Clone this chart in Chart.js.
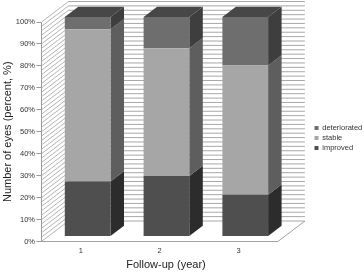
<!DOCTYPE html>
<html><head><meta charset="utf-8">
<script src="https://cdn.jsdelivr.net/npm/chart.js@4.4.0/dist/chart.umd.min.js"></script>
<style>html,body{margin:0;padding:0;background:#fff;}</style>
</head><body>
<canvas id="c" width="364" height="272"></canvas>
<script>
// ---- data ----
const categories = ['1', '2', '3'];
const seriesNames = ['improved', 'stable', 'deteriorated'];
const improved = [25.0, 27.5, 19.0];
const stable = [69.4, 58.2, 58.8];
const deteriorated = [5.6, 14.3, 22.2];
const yTickStep = 10;

// ---- styles / layout ----
const frontColors = ['#4f4f4f', '#a6a6a6', '#6e6e6e'];
const sideColors = ['#2c2c2c', '#5e5e5e', '#3e3e3e'];
const topColor = '#474747';
const X_RIGHT = 290.5;          // right end of x scale (for centring title)
const WALL = {dx: 27, dy: -20.5};
const BAR_FRONT = 0.25, BAR_BACK = 0.75;
const MINOR_STEP = 2;
const LEGEND_X = 314.5, LEGEND_Y = 124.3;

Chart.defaults.font.family = "'Liberation Sans', Arial, sans-serif";

const depth3d = {
  id: 'depth3d',
  afterLayout(chart) {
    const x = chart.scales.x;
    x.right = X_RIGHT; x.width = x.right - x.left; x.configure();
    const lg = chart.legend;
    if (lg) {
      const p = lg.options.labels.padding;
      lg.left = LEGEND_X - p; lg.right = chart.width; lg.width = lg.right - lg.left;
      lg.top = LEGEND_Y - p; lg.bottom = lg.top + 200; lg.height = 200;
    }
  },
  beforeDraw(chart) {
    const ctx = chart.ctx;
    ctx.save(); ctx.fillStyle = '#fff'; ctx.fillRect(0, 0, chart.width, chart.height); ctx.restore();
  },
  beforeDatasetsDraw(chart) {
    const ctx = chart.ctx, x = chart.scales.x, y = chart.scales.y;
    const L = x.getPixelForValue(x.min);
    const R = x.getPixelForValue(categories.length + 0.5);
    const B = y.getPixelForValue(0);
    ctx.save();
    ctx.lineWidth = 1;
    for (let v = 0; v <= 100; v += MINOR_STEP) {
      const py = y.getPixelForValue(v);
      ctx.strokeStyle = '#b4b4b4';
      ctx.beginPath(); ctx.moveTo(L, py); ctx.lineTo(L + WALL.dx, py + WALL.dy); ctx.stroke();
      ctx.strokeStyle = '#a8a8a8';
      ctx.beginPath(); ctx.moveTo(L + WALL.dx, py + WALL.dy); ctx.lineTo(R + WALL.dx, py + WALL.dy); ctx.stroke();
    }
    ctx.strokeStyle = '#a0a0a0';
    ctx.beginPath(); ctx.moveTo(L, B); ctx.lineTo(R, B); ctx.lineTo(R + WALL.dx, B + WALL.dy); ctx.stroke();
    // bar sides and tops
    const ox = WALL.dx * BAR_FRONT, oy = WALL.dy * BAR_FRONT;
    const bx = WALL.dx * (BAR_BACK - BAR_FRONT), by = WALL.dy * (BAR_BACK - BAR_FRONT);
    const n = chart.data.datasets.length;
    for (let d = 0; d < n; d++) {
      const meta = chart.getDatasetMeta(d);
      meta.data.forEach(el => {
        const p = el.getProps(['x', 'y', 'base', 'width'], true);
        const xl = p.x - p.width / 2 + ox, xr = p.x + p.width / 2 + ox;
        const top = Math.min(p.y, p.base) + oy, bot = Math.max(p.y, p.base) + oy;
        ctx.fillStyle = sideColors[d];
        ctx.beginPath();
        ctx.moveTo(xr, top); ctx.lineTo(xr + bx, top + by); ctx.lineTo(xr + bx, bot + by); ctx.lineTo(xr, bot);
        ctx.closePath(); ctx.fill();
        if (d === n - 1) {
          ctx.fillStyle = topColor;
          ctx.beginPath();
          ctx.moveTo(xl, top); ctx.lineTo(xr, top); ctx.lineTo(xr + bx, top + by); ctx.lineTo(xl + bx, top + by);
          ctx.closePath(); ctx.fill();
        }
      });
    }
    ctx.restore();
    ctx.save();
    ctx.translate(ox, oy);
  },
  afterDatasetsDraw(chart) { chart.ctx.restore(); }
};

const seriesData = [improved, stable, deteriorated];
const datasets = seriesNames.map((name, i) => ({
  label: name,
  data: seriesData[i],
  backgroundColor: frontColors[i],
  borderWidth: 0,
  barPercentage: 0.58,
  categoryPercentage: 1,
  clip: false
}));

new Chart(document.getElementById('c'), {
  type: 'bar',
  data: {labels: categories, datasets},
  plugins: [depth3d],
  options: {
    responsive: false, animation: false, devicePixelRatio: 1,
    layout: {padding: {top: 22, left: 0, right: 0, bottom: 0}},
    plugins: {
      legend: {position: 'right', align: 'start', reverse: true, fullSize: false,
        labels: {boxWidth: 4, boxHeight: 4, padding: 2.5, color: '#333', font: {size: 7.5}}},
      tooltip: {enabled: false}
    },
    scales: {
      x: {type: 'linear', min: 0.5, max: 3.66, bounds: 'data', offset: false, stacked: true,
        afterBuildTicks(s) { s.ticks = categories.map(c => ({value: Number(c)})); },
        grid: {display: false, drawTicks: false}, border: {display: false},
        ticks: {padding: 5, color: '#333', font: {size: 7.5}},
        title: {display: true, text: 'Follow-up (year)', color: '#222', font: {size: 11}, padding: {top: 0, bottom: 0.5}},
        afterFit(s) { s.height = 30.5; }
      },
      y: {stacked: true, min: 0, max: 100,
        ticks: {stepSize: yTickStep, callback: v => v + '%', padding: 1.5, color: '#333', font: {size: 7.5}},
        grid: {drawOnChartArea: false, drawTicks: true, tickLength: 5, color: '#999'},
        border: {display: true, color: '#999'},
        title: {display: true, text: 'Number of eyes (percent, %)', color: '#222', font: {size: 11}, padding: {top: 1.5, bottom: 0}},
        afterFit(s) { s.width = 41.5; }
      }
    }
  }
});
</script>
</body></html>
